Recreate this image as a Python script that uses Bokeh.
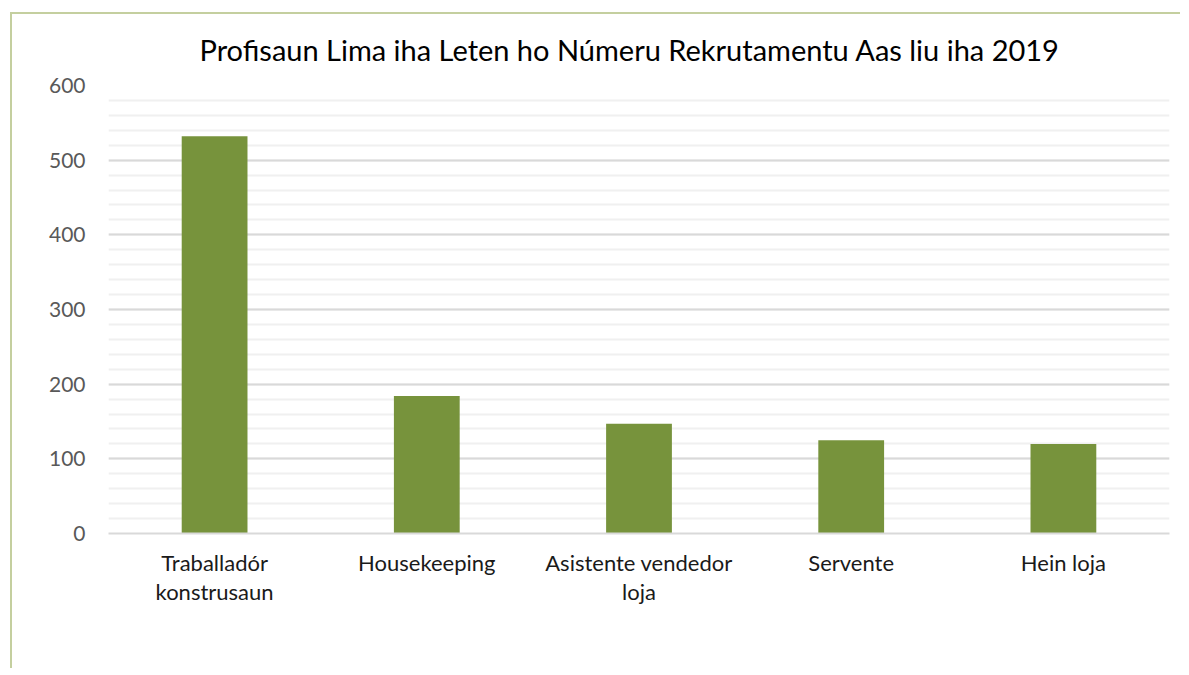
from bokeh.plotting import figure
from bokeh.embed import file_html
from bokeh.resources import INLINE
from bokeh.models import FixedTicker, Range1d

title = "Profisaun Lima iha Leten ho Númeru Rekrutamentu Aas liu iha 2019"
categories = ["Traballadór\nkonstrusaun", "Housekeeping", "Asistente vendedor\nloja", "Servente", "Hein loja"]
counts = [532, 184, 147, 125, 120]
y_ticks = [0, 100, 200, 300, 400, 500, 600]
minor_y_ticks = list(range(0, 601, 20))

FONT = "Lato"

p = figure(x_range=categories, y_range=Range1d(0, 600), width=1170, height=656,
           output_backend="svg", toolbar_location=None, title=title,
           min_border_left=96, min_border_right=13, min_border_top=71, min_border_bottom=137)
p.margin = (12, 0, 0, 10)
p.styles = {"border-top": "2px solid #c4cf9f", "border-left": "2px solid #c4cf9f"}

p.vbar(x=categories, top=counts, width=0.31, color="#77933c", line_color=None)

p.title.align = "left"
p.title.offset = 91
p.title.vertical_align = "top"
p.title.text_font = FONT
p.title.text_font_size = "29px"
p.title.text_font_style = "normal"
p.title.text_color = "#000000"
p.title.standoff = 33

p.outline_line_color = None
p.background_fill_color = "white"
p.border_fill_color = "white"

p.yaxis.ticker = FixedTicker(ticks=y_ticks, minor_ticks=minor_y_ticks)
p.yaxis.axis_line_color = None
p.yaxis.major_tick_line_color = None
p.yaxis.minor_tick_line_color = None
p.yaxis.major_label_text_font = FONT
p.yaxis.major_label_text_font_size = "21px"
p.yaxis.major_label_text_color = "#595959"
p.yaxis.major_label_standoff = 17

p.xaxis.axis_line_color = "#d9d9d9"
p.xaxis.axis_line_width = 2
p.xaxis.major_tick_line_color = None
p.xaxis.minor_tick_line_color = None
p.xaxis.major_label_text_font = FONT
p.xaxis.major_label_text_font_size = "22px"
p.xaxis.major_label_text_color = "#1a1a1a"
p.xaxis.major_label_standoff = 9
p.xaxis.major_label_text_line_height = 1.1

p.xgrid.grid_line_color = None
p.ygrid.grid_line_color = "#d9d9d9"
p.ygrid.grid_line_width = 2
p.ygrid.minor_grid_line_color = "#f0f0f0"
p.ygrid.minor_grid_line_width = 2

open("out.html", "w").write(file_html(p, INLINE))
